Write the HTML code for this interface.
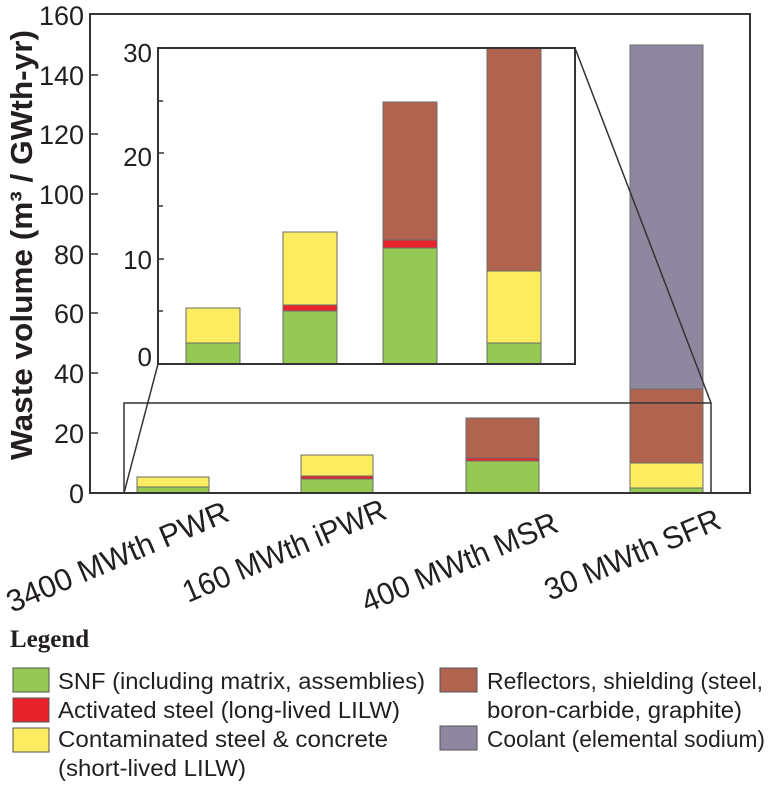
<!DOCTYPE html>
<html><head><meta charset="utf-8"><style>
body{margin:0;background:#fff;}
svg{display:block;font-family:"Liberation Sans",Arial,sans-serif;}
</style></head><body>
<svg width="768" height="785" viewBox="0 0 768 785" xmlns="http://www.w3.org/2000/svg">
<g stroke="#6b6b6b" stroke-width="1">
<rect x="137" y="487" width="72" height="6" fill="#95c954"/>
<rect x="137" y="477" width="72" height="10" fill="#fbed5f"/>
<rect x="301" y="479" width="72" height="14" fill="#95c954"/>
<rect x="301" y="476" width="72" height="3" fill="#e8242a"/>
<rect x="301" y="455" width="72" height="21" fill="#fbed5f"/>
<rect x="466" y="461" width="73" height="32" fill="#95c954"/>
<rect x="466" y="458" width="73" height="3" fill="#e8242a"/>
<rect x="466" y="418" width="73" height="40" fill="#b06450"/>
<rect x="630" y="488" width="73" height="5" fill="#95c954"/>
<rect x="630" y="463" width="73" height="25" fill="#fbed5f"/>
<rect x="630" y="389" width="73" height="74" fill="#b06450"/>
<rect x="630" y="45" width="73" height="344" fill="#8f879f"/>
</g>
<rect x="124" y="403" width="587" height="90" fill="none" stroke="#333" stroke-width="1.5"/>
<line x1="124" y1="493" x2="158" y2="364" stroke="#333" stroke-width="1.5"/>
<line x1="575" y1="48" x2="711" y2="403" stroke="#333" stroke-width="1.5"/>
<rect x="158" y="48" width="417" height="316" fill="#fff" stroke="none"/>
<g stroke="#6b6b6b" stroke-width="1">
<rect x="186" y="343" width="54" height="21" fill="#95c954"/>
<rect x="186" y="308" width="54" height="35" fill="#fbed5f"/>
<rect x="283" y="311" width="54" height="53" fill="#95c954"/>
<rect x="283" y="305" width="54" height="6" fill="#e8242a"/>
<rect x="283" y="232" width="54" height="73" fill="#fbed5f"/>
<rect x="383" y="248" width="54" height="116" fill="#95c954"/>
<rect x="383" y="240" width="54" height="8" fill="#e8242a"/>
<rect x="383" y="102" width="54" height="138" fill="#b06450"/>
<rect x="487" y="343" width="54" height="21" fill="#95c954"/>
<rect x="487" y="271" width="54" height="72" fill="#fbed5f"/>
<rect x="487" y="48" width="54" height="223" fill="#b06450"/>
</g>
<rect x="158" y="48" width="417" height="316" fill="none" stroke="#333" stroke-width="2"/>
<g stroke="#333" stroke-width="1.5">
<line x1="158" y1="364" x2="164" y2="364"/><line x1="158" y1="311" x2="163" y2="311"/>
<line x1="158" y1="259" x2="164" y2="259"/><line x1="158" y1="206" x2="163" y2="206"/>
<line x1="158" y1="153" x2="164" y2="153"/><line x1="158" y1="101" x2="163" y2="101"/>
<line x1="158" y1="48" x2="164" y2="48"/>
</g>
<g font-size="26" fill="#231f20" text-anchor="end">
<text x="152" y="366">0</text><text x="152" y="269">10</text>
<text x="152" y="166">20</text><text x="152" y="62">30</text>
</g>
<rect x="90" y="14" width="660" height="479" fill="none" stroke="#333" stroke-width="2"/>
<g stroke="#333" stroke-width="1.5">
<line x1="90" y1="433" x2="98" y2="433"/><line x1="90" y1="373" x2="98" y2="373"/>
<line x1="90" y1="313" x2="98" y2="313"/><line x1="90" y1="254" x2="98" y2="254"/>
<line x1="90" y1="194" x2="98" y2="194"/><line x1="90" y1="134" x2="98" y2="134"/>
<line x1="90" y1="75" x2="98" y2="75"/>
</g>
<g font-size="27" fill="#231f20" text-anchor="end">
<text x="84" y="503">0</text><text x="84" y="443">20</text><text x="84" y="383">40</text>
<text x="84" y="323">60</text><text x="84" y="264">80</text><text x="84" y="204">100</text>
<text x="84" y="144">120</text><text x="84" y="85">140</text><text x="84" y="25">160</text>
</g>
<text transform="translate(32,460) rotate(-90)" font-size="31" font-weight="bold" fill="#231f20" textLength="430" lengthAdjust="spacingAndGlyphs">Waste volume (m³ / GWth-yr)</text>
<g font-size="31" fill="#231f20">
<text transform="translate(12,613) rotate(-23)" textLength="238" lengthAdjust="spacingAndGlyphs">3400 MWth PWR</text>
<text transform="translate(188,603) rotate(-23)" textLength="218" lengthAdjust="spacingAndGlyphs">160 MWth iPWR</text>
<text transform="translate(367,613) rotate(-23)" textLength="210" lengthAdjust="spacingAndGlyphs">400 MWth MSR</text>
<text transform="translate(550,601) rotate(-23)" textLength="188" lengthAdjust="spacingAndGlyphs">30 MWth SFR</text>
</g>
<text x="10" y="647" font-family="'Liberation Serif',serif" font-weight="bold" font-size="25" fill="#231f20">Legend</text>
<g stroke="#555" stroke-width="1">
<rect x="13" y="668" width="36" height="24" fill="#95c954"/>
<rect x="13" y="698" width="36" height="24" fill="#e8242a"/>
<rect x="13" y="728" width="36" height="24" fill="#fbed5f"/>
<rect x="440" y="668" width="37" height="24" fill="#b06450"/>
<rect x="440" y="726" width="37" height="24" fill="#8f879f"/>
</g>
<g font-size="23.5" fill="#231f20" lengthAdjust="spacingAndGlyphs">
<text x="58" y="689" textLength="367" lengthAdjust="spacingAndGlyphs">SNF (including matrix, assemblies)</text>
<text x="58" y="718" textLength="342" lengthAdjust="spacingAndGlyphs">Activated steel (long-lived LILW)</text>
<text x="58" y="747" textLength="330" lengthAdjust="spacingAndGlyphs">Contaminated steel &amp; concrete</text>
<text x="58" y="776" textLength="188" lengthAdjust="spacingAndGlyphs">(short-lived LILW)</text>
<text x="487" y="689" textLength="276" lengthAdjust="spacingAndGlyphs">Reflectors, shielding (steel,</text>
<text x="487" y="718" textLength="255" lengthAdjust="spacingAndGlyphs">boron-carbide, graphite)</text>
<text x="487" y="747" textLength="278" lengthAdjust="spacingAndGlyphs">Coolant (elemental sodium)</text>
</g>
</svg>
</body></html>
